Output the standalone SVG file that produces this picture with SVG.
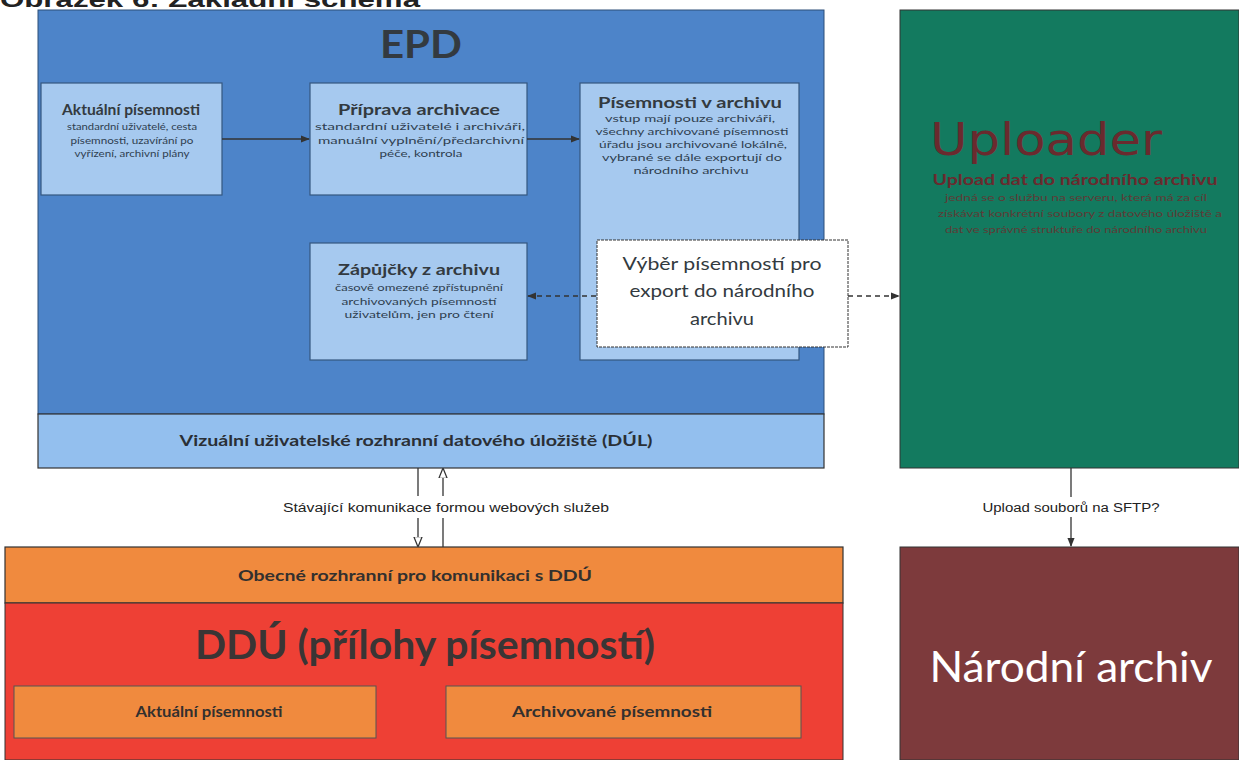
<svg xmlns="http://www.w3.org/2000/svg" width="1239" height="760" viewBox="0 0 1239 760">
<defs>
<style>
.t{font-family:Lato,"Open Sans","Liberation Sans",sans-serif;text-anchor:middle;}
.b{font-weight:bold;}
.dk{fill:#333a40;}
.desc{font-size:10px;fill:#2f4050;}
.inner{fill:#a6c9ef;stroke:#35577f;stroke-width:1.2;}
.ln{stroke:#333;stroke-width:1.3;fill:none;}
.dash{stroke:#333;stroke-width:1.3;fill:none;stroke-dasharray:5 4;}
.ar{font-family:"Liberation Sans",Arial,sans-serif;font-size:12px;fill:#222;text-anchor:middle;}
</style>
<marker id="ah" viewBox="0 0 10 10" refX="9" refY="5" markerWidth="7" markerHeight="7" orient="auto-start-reverse">
<path d="M0,1 L10,5 L0,9 z" fill="#333"/>
</marker>
<marker id="ao" viewBox="0 0 10 10" refX="9" refY="5" markerWidth="8" markerHeight="8" orient="auto-start-reverse">
<path d="M0,1 L10,5 L0,9 z" fill="#fff" stroke="#333" stroke-width="1.2"/>
</marker>
</defs>
<rect width="1239" height="760" fill="#ffffff"/>
<text x="0" y="7" font-family="Liberation Sans,Arial,sans-serif" font-weight="bold" font-size="22" fill="#222" textLength="420" lengthAdjust="spacingAndGlyphs">Obrázek 6: Základní schéma</text>

<g id="epd">
<rect x="38" y="10" width="786" height="404" fill="#4d84c9" stroke="#2c4e78" stroke-width="1"/>
<text class="t b dk" x="421" y="58" font-size="38" textLength="82" lengthAdjust="spacingAndGlyphs">EPD</text>
</g>

<g id="dul">
<rect x="38" y="414" width="786" height="54" fill="#93bfee" stroke="#333" stroke-width="1.2"/>
<text class="t b" x="416" y="446" font-size="15" fill="#2a2f36" font-family="Liberation Sans,Arial,sans-serif" textLength="473" lengthAdjust="spacingAndGlyphs">Vizuální uživatelské rozhranní datového úložiště (DÚL)</text>
</g>

<g id="aktualni">
<rect class="inner" x="41" y="83" width="181" height="112"/>
<text class="t b dk" x="131" y="115" font-size="15" textLength="138" lengthAdjust="spacingAndGlyphs">Aktuální písemnosti</text>
<text class="t desc" x="132" y="130" textLength="130" lengthAdjust="spacingAndGlyphs">standardní uživatelé, cesta</text>
<text class="t desc" x="132" y="144" textLength="123" lengthAdjust="spacingAndGlyphs">písemnosti, uzavírání po</text>
<text class="t desc" x="132" y="157" textLength="115" lengthAdjust="spacingAndGlyphs">vyřízení, archivní plány</text>
</g>

<g id="priprava">
<rect class="inner" x="310" y="83" width="217" height="112"/>
<text class="t b dk" x="419" y="115" font-size="16" textLength="162" lengthAdjust="spacingAndGlyphs">Příprava archivace</text>
<text class="t desc" x="420" y="130" textLength="210" lengthAdjust="spacingAndGlyphs">standardní uživatelé i archiváři,</text>
<text class="t desc" x="421" y="144" textLength="206" lengthAdjust="spacingAndGlyphs">manuální vyplnění/předarchivní</text>
<text class="t desc" x="421" y="157" textLength="83" lengthAdjust="spacingAndGlyphs">péče, kontrola</text>
</g>

<g id="v-archivu">
<rect class="inner" x="580" y="83" width="219" height="277"/>
<text class="t b dk" x="690" y="108" font-size="16" textLength="184" lengthAdjust="spacingAndGlyphs">Písemnosti v archivu</text>
<text class="t desc" x="690" y="122" textLength="170" lengthAdjust="spacingAndGlyphs">vstup mají pouze archiváři,</text>
<text class="t desc" x="692" y="135" textLength="193" lengthAdjust="spacingAndGlyphs">všechny archivované písemnosti</text>
<text class="t desc" x="693" y="148" textLength="188" lengthAdjust="spacingAndGlyphs">úřadu jsou archivované lokálně,</text>
<text class="t desc" x="692" y="161" textLength="180" lengthAdjust="spacingAndGlyphs">vybrané se dále exportují do</text>
<text class="t desc" x="691" y="174" textLength="115" lengthAdjust="spacingAndGlyphs">národního archivu</text>
</g>

<g id="zapujcky">
<rect class="inner" x="310" y="243" width="217" height="117"/>
<text class="t b dk" x="419" y="275" font-size="16" textLength="162" lengthAdjust="spacingAndGlyphs">Zápůjčky z archivu</text>
<text class="t desc" x="419" y="291" textLength="168" lengthAdjust="spacingAndGlyphs">časově omezené zpřístupnění</text>
<text class="t desc" x="419" y="305" textLength="155" lengthAdjust="spacingAndGlyphs">archivovaných písemností</text>
<text class="t desc" x="419" y="318" textLength="149" lengthAdjust="spacingAndGlyphs">uživatelům, jen pro čtení</text>
</g>

<g id="vyber">
<rect x="597" y="240" width="251" height="107" fill="#ffffff" stroke="#333" stroke-width="1" stroke-dasharray="3 1"/>
<text class="t dk" x="722" y="270" font-size="18" textLength="199" lengthAdjust="spacingAndGlyphs">Výběr písemností pro</text>
<text class="t dk" x="722" y="297" font-size="18" textLength="185" lengthAdjust="spacingAndGlyphs">export do národního</text>
<text class="t dk" x="722" y="325" font-size="18" textLength="64" lengthAdjust="spacingAndGlyphs">archivu</text>
</g>

<g id="uploader">
<rect x="900" y="10" width="339" height="458" fill="#137a5f" stroke="#333" stroke-width="1"/>
<text x="1046" y="155" font-family="DejaVu Sans,Verdana,sans-serif" text-anchor="middle" font-size="44" fill="#6a2a2e" textLength="232" lengthAdjust="spacingAndGlyphs">Uploader</text>
<text class="t b" x="1075" y="185" font-size="16" fill="#6a2a2e" textLength="285" lengthAdjust="spacingAndGlyphs">Upload dat do národního archivu</text>
<text class="t" x="1076" y="201" font-size="9" fill="#5e3a36" textLength="262" lengthAdjust="spacingAndGlyphs">jedná se o službu na serveru, která má za cíl</text>
<text class="t" x="1080" y="217" font-size="9" fill="#5e3a36" textLength="284" lengthAdjust="spacingAndGlyphs">získávat konkrétní soubory z datového úložiště a</text>
<text class="t" x="1076" y="233" font-size="9" fill="#5e3a36" textLength="262" lengthAdjust="spacingAndGlyphs">dat ve správné struktuře do národního archivu</text>
</g>

<g id="narodni-archiv">
<rect x="900" y="547" width="339" height="213" fill="#7d3a3c" stroke="#333" stroke-width="1"/>
<text class="t" x="1071" y="682" font-size="42" fill="#ffffff" textLength="283" lengthAdjust="spacingAndGlyphs">Národní archiv</text>
</g>

<g id="obecne-rozhranni">
<rect x="5" y="547" width="838" height="56" fill="#f08a3e" stroke="#333" stroke-width="1.2"/>
<text class="t b" x="415" y="581" font-size="15" fill="#33302e" textLength="354" lengthAdjust="spacingAndGlyphs">Obecné rozhranní pro komunikaci s DDÚ</text>
</g>

<g id="ddu">
<rect x="5" y="603" width="838" height="157" fill="#ee4035" stroke="#333" stroke-width="1"/>
<text class="t b" x="425" y="659" font-size="40" fill="#3a3535" textLength="460" lengthAdjust="spacingAndGlyphs">DDÚ (přílohy písemností)</text>
<rect x="14" y="686" width="362" height="52" fill="#f08a3e" stroke="#555" stroke-width="1"/>
<text class="t b" x="209" y="717" font-size="15" fill="#33302e" textLength="147" lengthAdjust="spacingAndGlyphs">Aktuální písemnosti</text>
<rect x="446" y="686" width="355" height="52" fill="#f08a3e" stroke="#555" stroke-width="1"/>
<text class="t b" x="612" y="717" font-size="15" fill="#33302e" textLength="200" lengthAdjust="spacingAndGlyphs">Archivované písemnosti</text>
</g>

<g id="connectors">
<line class="ln" x1="222" y1="139" x2="309" y2="139" marker-end="url(#ah)"/>
<line class="ln" x1="527" y1="139" x2="579" y2="139" marker-end="url(#ah)"/>
<line class="dash" x1="596" y1="296" x2="528" y2="296" marker-end="url(#ah)"/>
<line class="dash" x1="848" y1="296" x2="899" y2="296" marker-end="url(#ah)"/>
<line class="ln" x1="418" y1="468" x2="418" y2="496"/>
<line class="ln" x1="418" y1="518" x2="418" y2="546" marker-end="url(#ao)"/>
<line class="ln" x1="443" y1="547" x2="443" y2="518"/>
<line class="ln" x1="443" y1="496" x2="443" y2="469" marker-end="url(#ao)"/>
<text class="ar" x="446" y="512" textLength="326" lengthAdjust="spacingAndGlyphs">Stávající komunikace formou webových služeb</text>
<line class="ln" x1="1071" y1="468" x2="1071" y2="497"/>
<line class="ln" x1="1071" y1="517" x2="1071" y2="546" marker-end="url(#ah)"/>
<text class="ar" x="1071" y="512" textLength="177" lengthAdjust="spacingAndGlyphs">Upload souborů na SFTP?</text>
</g>
</svg>
